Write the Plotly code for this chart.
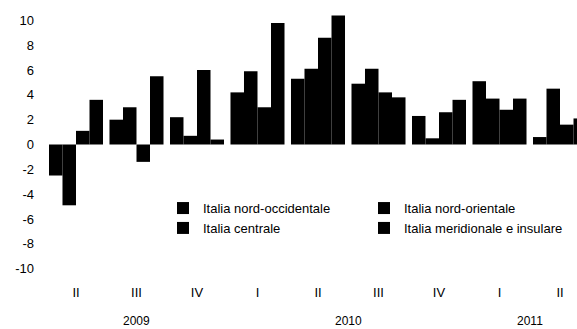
import plotly.graph_objects as go

# Quarterly values by macro-area (percent changes)
quarters = ["II", "III", "IV", "I", "II", "III", "IV", "I", "II"]
nord_occidentale = [-2.5, 2.0, 2.2, 4.2, 5.3, 4.9, 2.3, 5.1, 0.6]
nord_orientale = [-4.9, 3.0, 0.7, 5.9, 6.1, 6.1, 0.5, 3.7, 4.5]
centrale = [1.1, -1.4, 6.0, 3.0, 8.6, 4.2, 2.6, 2.8, 1.6]
meridionale = [3.6, 5.5, 0.4, 9.8, 10.4, 3.8, 3.6, 3.7, 2.1]

years = ["2009", "2010", "2011"]
year_pos = [1.0, 4.5, 7.5]

y_ticks = [10, 8, 6, 4, 2, 0, -2, -4, -6, -8, -10]
y_ticktext = [str(v) for v in y_ticks]

FONT = "Liberation Sans Narrow, Arial Narrow, Liberation Sans, Arial, sans-serif"
x = list(range(len(quarters)))

series = [
    ("Italia nord-occidentale", nord_occidentale, "legend"),
    ("Italia nord-orientale", nord_orientale, "legend2"),
    ("Italia centrale", centrale, "legend"),
    ("Italia meridionale e insulare", meridionale, "legend2"),
]

fig = go.Figure()
for name, vals, leg in series:
    fig.add_trace(go.Bar(
        x=x, y=vals, name=name, legend=leg,
        marker=dict(color="black", line=dict(width=0)),
    ))

for label, pos in zip(years, year_pos):
    fig.add_annotation(
        x=pos, xref="x", y=-0.147, yref="paper", yanchor="middle",
        text=label, showarrow=False,
        font=dict(family=FONT, size=12, color="black"),
    )

legend_style = dict(
    font=dict(family=FONT, size=13, color="black"),
    bgcolor="rgba(0,0,0,0)", borderwidth=0,
    xanchor="left", yanchor="top", orientation="v",
    traceorder="normal",
)

fig.update_layout(
    width=577, height=329,
    margin=dict(l=40, r=0, t=8, b=48),
    paper_bgcolor="white", plot_bgcolor="white",
    barmode="group", bargap=0.107, bargroupgap=0,
    font=dict(family=FONT, size=13, color="black"),
    legend=dict(x=(163 - 40) / 537, y=0.322, **legend_style),
    legend2=dict(x=(364 - 40) / 537, y=0.322, **legend_style),
    xaxis=dict(
        range=[-0.595, 8.281],
        tickmode="array", tickvals=x, ticktext=quarters,
        showgrid=False, zeroline=False, showline=False, ticks="",
        ticklabelstandoff=2,
        tickfont=dict(family=FONT, size=13, color="black"),
    ),
    yaxis=dict(
        range=[-11, 11],
        tickmode="array", tickvals=y_ticks, ticktext=y_ticktext,
        showgrid=False, zeroline=False, showline=False, ticks="",
        ticklabelstandoff=5,
        tickfont=dict(family=FONT, size=13, color="black"),
    ),
)

fig.write_html("out.html")
